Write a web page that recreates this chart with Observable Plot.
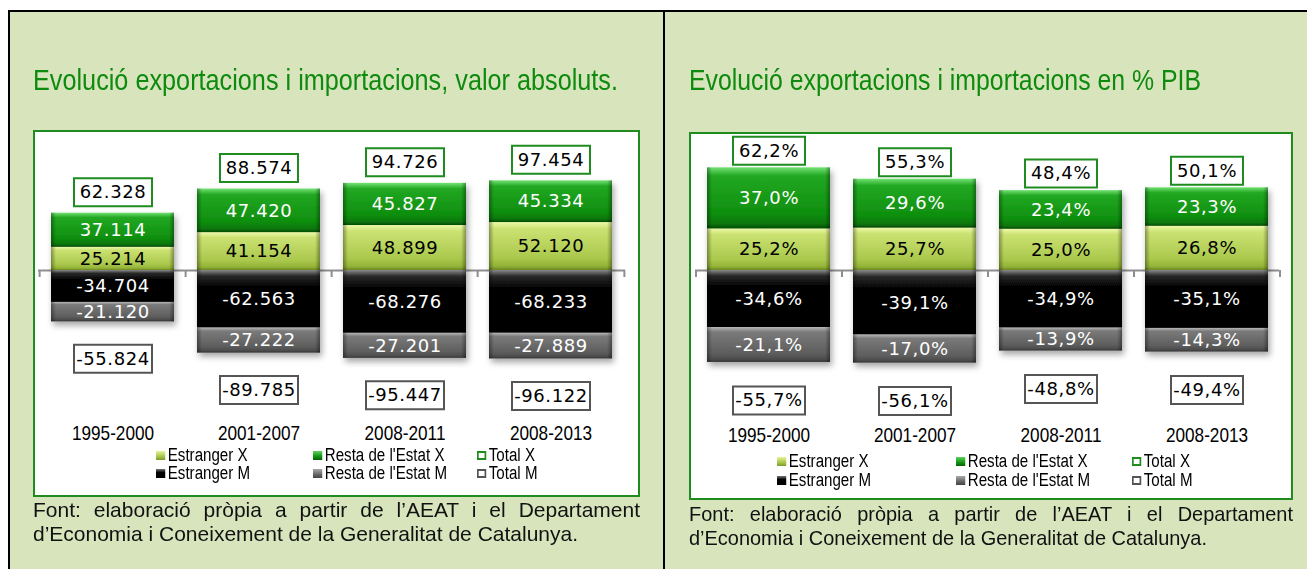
<!DOCTYPE html>
<html><head><meta charset="utf-8">
<script src="https://cdn.jsdelivr.net/npm/d3@7"></script>
<script src="https://cdn.jsdelivr.net/npm/@observablehq/plot@0.6"></script>
<style>
body{margin:0;width:1307px;height:569px;overflow:hidden;background:#fff;position:relative;
 font-family:'Liberation Sans Narrow','Arial Narrow','Liberation Sans',Arial,sans-serif}
.abs{position:absolute}
.t{white-space:nowrap;transform-origin:0 0;line-height:1}
.leg{position:absolute;white-space:nowrap;font-size:18px;line-height:18px;color:#000;transform-origin:0 0;transform:scaleX(0.84)}
.ico{display:inline-block;width:11px;height:9px;margin-right:3px;vertical-align:1px;box-sizing:border-box}
</style></head><body>
<script>
// ---------- data ----------
const categories = ["1995-2000", "2001-2007", "2008-2011", "2008-2013"];
const seriesNames = ["Estranger X", "Resta de l'Estat X", "Estranger M", "Resta de l'Estat M"];
const totalNames = ["Total X", "Total M"];
// Valor absolut
const absEstrangerX = [25.214, 41.154, 48.899, 52.120];
const absRestaX     = [37.114, 47.420, 45.827, 45.334];
const absEstrangerM = [-34.704, -62.563, -68.276, -68.233];
const absRestaM     = [-21.120, -27.222, -27.201, -27.889];
const absTotalX     = [62.328, 88.574, 94.726, 97.454];
const absTotalM     = [-55.824, -89.785, -95.447, -96.122];
// % PIB
const pibEstrangerX = [25.2, 25.7, 25.0, 26.8];
const pibRestaX     = [37.0, 29.6, 23.4, 23.3];
const pibEstrangerM = [-34.6, -39.1, -34.9, -35.1];
const pibRestaM     = [-21.1, -17.0, -13.9, -14.3];
const pibTotalX     = [62.2, 55.3, 48.4, 50.1];
const pibTotalM     = [-55.7, -56.1, -48.8, -49.4];
// texts
const titleAbs = "Evolució exportacions i importacions, valor absoluts.";
const titlePib = "Evolució exportacions i importacions en % PIB";
const captionLines = ["Font: elaboració pròpia a partir de l\u2019AEAT i el Departament",
                      "d\u2019Economia i Coneixement de la Generalitat de Catalunya."];

// ---------- layout helpers ----------
const NARROW = "'Liberation Sans Narrow','Arial Narrow','Liberation Sans',Arial,sans-serif";
function div(css, html) {
  const d = document.createElement("div");
  d.className = "abs"; d.style.cssText += css;
  if (html != null) d.innerHTML = html;
  document.body.appendChild(d); return d;
}
function fitText(el, w) {
  const nw = el.getBoundingClientRect().width;
  const s = w / nw; el.style.transform = `scaleX(${s})`; return s;
}
function justify(el, w, s) {
  el.style.transform = `scaleX(${s})`;
  const nw = el.getBoundingClientRect().width / s;
  const gaps = (el.textContent.match(/ /g) || []).length;
  el.style.wordSpacing = ((w / s - nw) / gaps) + "px";
}

// background & frame
div("left:8px;top:10px;width:1299px;height:559px;background:#d8e4bc");
div("left:8px;top:10px;width:1299px;height:2px;background:#000");
div("left:8px;top:10px;width:2px;height:559px;background:#000");
div("left:663px;top:10px;width:2px;height:559px;background:#000");

const GRN = "#1e8c1e";
const gradCss = [
  "linear-gradient(#e4f59a,#a9c64a 60%,#7f9a30)",
  "linear-gradient(#5fd35f,#129412 60%,#075f07)",
  "linear-gradient(#777,#000 40%,#000)",
  "linear-gradient(#aaa,#666 60%,#444)"
];

function panel(o) {
  // white chart box
  div(`left:${o.box[0]}px;top:${o.box[1]}px;width:${o.box[2]-4}px;height:${o.box[3]-4}px;border:2px solid ${GRN};background:#fff`);
  // title
  const t = div(`left:${o.box[0]}px;top:${o.titleTop}px;font-size:29px;color:#0e8a0e`, "");
  t.className = "abs t"; t.textContent = o.title;
  fitText(t, o.titleW);
  // caption
  const c1 = div(`left:${o.box[0]}px;top:${o.capTop}px;font-size:21px;color:#111`);
  c1.className = "abs t"; c1.textContent = captionLines[0];
  const c2 = div(`left:${o.box[0]}px;top:${o.capTop + 24}px;font-size:21px;color:#111`);
  c2.className = "abs t"; c2.textContent = captionLines[1];
  const s = fitText(c2, o.cap2W);
  justify(c1, o.box[2], s);
  // legend
  const legendSeries = [seriesNames[0], seriesNames[1], totalNames[0], seriesNames[2], seriesNames[3], totalNames[1]];
  legendSeries.forEach((name, k) => {
    const col = k % 3, row = Math.floor(k / 3);
    let ico;
    if (col === 2) ico = `<span class="ico" style="background:#fff;border:2px solid ${row ? "#555" : GRN}"></span>`;
    else ico = `<span class="ico" style="background:${gradCss[row * 2 + col]}"></span>`;
    const d = document.createElement("div");
    d.className = "leg";
    d.style.left = o.legX[col] + "px"; d.style.top = o.legY[row] + "px";
    d.innerHTML = ico;
    d.appendChild(document.createTextNode(name));
    document.body.appendChild(d);
  });
  // chart
  const series = o.series;
  const rows = [];
  categories.forEach((c, i) => series.forEach((vals, s) => rows.push({cat: c, s, value: vals[i]})));
  const tx = categories.map((c, i) => ({cat: c, value: o.totX[i]}));
  const tm = categories.map((c, i) => ({cat: c, value: o.totM[i]}));
  const width = o.svg[2], height = o.svg[3];
  const step = (width - o.mL - o.mR) / categories.length;
  const bw = o.boxW;
  const boxSym = {draw(ctx) { ctx.rect(-bw / 2, -14, bw, 28); }};
  const lab = {fontSize: 18, fontFamily: "DejaVu Sans"};
  const fill = ["#000", "#fff", "#fff", "#fff"];
  const svg = Plot.plot({
    width, height, marginTop: 0, marginBottom: 20, marginLeft: o.mL, marginRight: o.mR,
    style: {background: "transparent", fontFamily: NARROW, fontSize: "20px", color: "#000", overflow: "visible"},
    x: {domain: categories, paddingInner: 0.16, paddingOuter: 0.08, tickSize: 0, tickPadding: 2, label: null},
    y: {domain: o.yDomain, axis: null},
    color: {type: "identity"},
    marks: [
      Plot.ruleY([0], {stroke: "#8e8e8e", strokeWidth: 2}),
      Plot.ruleX(categories, {x: d => d, dx: -step / 2, y1: 0, y2: 0, insetBottom: -7, stroke: "#8e8e8e", strokeWidth: 2}),
      Plot.ruleX(categories.slice(-1), {x: d => d, dx: step / 2, y1: 0, y2: 0, insetBottom: -7, stroke: "#8e8e8e", strokeWidth: 2}),
      Plot.barY(rows, {x: "cat", y: "value", z: "s", fill: d => `url(#${o.pre}g${d.s})`}),
      Plot.barY(rows, {x: "cat", y: "value", z: "s", fill: `url(#${o.pre}hb)`}),
      Plot.text(rows, Plot.stackY({x: "cat", y: "value", z: "s", text: d => o.fmt(d.value), fill: d => fill[d.s], ...lab})),
      Plot.dot(tx, {x: "cat", y: "value", dy: o.dyTop, symbol: boxSym, r: 10, fill: "#fff", stroke: GRN, strokeWidth: 2}),
      Plot.text(tx, {x: "cat", y: "value", dy: o.dyTop, text: d => o.fmt(d.value), fill: "#000", ...lab}),
      Plot.dot(tm, {x: "cat", y: "value", dy: o.dyBot, symbol: boxSym, r: 10, fill: "#fff", stroke: "#555", strokeWidth: 2}),
      Plot.text(tm, {x: "cat", y: "value", dy: o.dyBot, text: d => o.fmt(d.value), fill: "#000", ...lab})
    ]
  });
  const holder = div(`left:${o.svg[0]}px;top:${o.svg[1]}px;width:${width}px;height:${height}px`);
  holder.appendChild(svg);
  // gradients / shadow
  const defs = d3.select(svg).insert("defs", ":first-child");
  const grads = [
    [[0, "#eefaa8"], [0.14, "#cbe272"], [0.75, "#aac84c"], [0.92, "#93b237"], [1, "#6a8622"]],
    [[0, "#74e274"], [0.14, "#22a822"], [0.75, "#0f8f0f"], [0.92, "#0a770a"], [1, "#044c04"]],
    [[0, "#8a8a8a"], [0.1, "#2a2a2a"], [0.3, "#000"], [1, "#000"]],
    [[0, "#b8b8b8"], [0.14, "#7a7a7a"], [0.75, "#5e5e5e"], [0.92, "#4c4c4c"], [1, "#333"]]
  ];
  grads.forEach((st, k) => {
    const g = defs.append("linearGradient").attr("id", `${o.pre}g${k}`).attr("x1", 0).attr("x2", 0).attr("y1", 0).attr("y2", 1);
    st.forEach(([off, col]) => g.append("stop").attr("offset", off).attr("stop-color", col));
  });
  const hb = defs.append("linearGradient").attr("id", `${o.pre}hb`).attr("x1", 0).attr("x2", 1).attr("y1", 0).attr("y2", 0);
  [[0, 0.35], [0.04, 0], [0.96, 0], [1, 0.35]].forEach(([off, op]) =>
    hb.append("stop").attr("offset", off).attr("stop-color", "#000").attr("stop-opacity", op));
  const f = defs.append("filter").attr("id", `${o.pre}sh`).attr("x", "-10%").attr("y", "-10%").attr("width", "130%").attr("height", "140%");
  f.append("feDropShadow").attr("dx", 2).attr("dy", 4).attr("stdDeviation", 3).attr("flood-color", "#000").attr("flood-opacity", 0.35);
  const bars = d3.select(svg).selectAll('g[aria-label="bar"]');
  d3.select(bars.nodes()[0]).attr("filter", `url(#${o.pre}sh)`);
  d3.select(svg).selectAll('g[aria-label="text"] text').style("letter-spacing", "0.6px");
  // narrow look for the category labels
  d3.select(svg).selectAll("text").filter(function () { return !this.closest('g[aria-label="text"]'); })
    .each(function () {
      const tr = this.getAttribute("transform") || "";
      this.setAttribute("transform", (tr + " scale(0.86,1)").trim());
    });
}

panel({
  pre: "L", title: titleAbs, titleTop: 66, titleW: 585,
  box: [33, 130, 607, 367], svg: [33, 131, 607, 312], mL: 5, mR: 15,
  yDomain: [-166.3, 151.1], series: [absEstrangerX, absRestaX, absEstrangerM, absRestaM],
  totX: absTotalX, totM: absTotalM, fmt: v => v.toFixed(3), dyTop: -21, dyBot: 37, boxW: 78,
  capTop: 499, cap2W: 545, legX: [156, 313, 477], legY: [446, 464]
});
panel({
  pre: "R", title: titlePib, titleTop: 66, titleW: 512,
  box: [689, 132, 604, 368], svg: [689, 133, 603, 312], mL: 6, mR: 13,
  yDomain: [-93.9, 83.0], series: [pibEstrangerX, pibRestaX, pibEstrangerM, pibRestaM],
  totX: pibTotalX, totM: pibTotalM, fmt: v => v.toFixed(1).replace(".", ",") + "%", dyTop: -17, dyBot: 38, boxW: 72,
  capTop: 503, cap2W: 518, legX: [777, 956, 1132], legY: [452, 471]
});
</script>
</body></html>
